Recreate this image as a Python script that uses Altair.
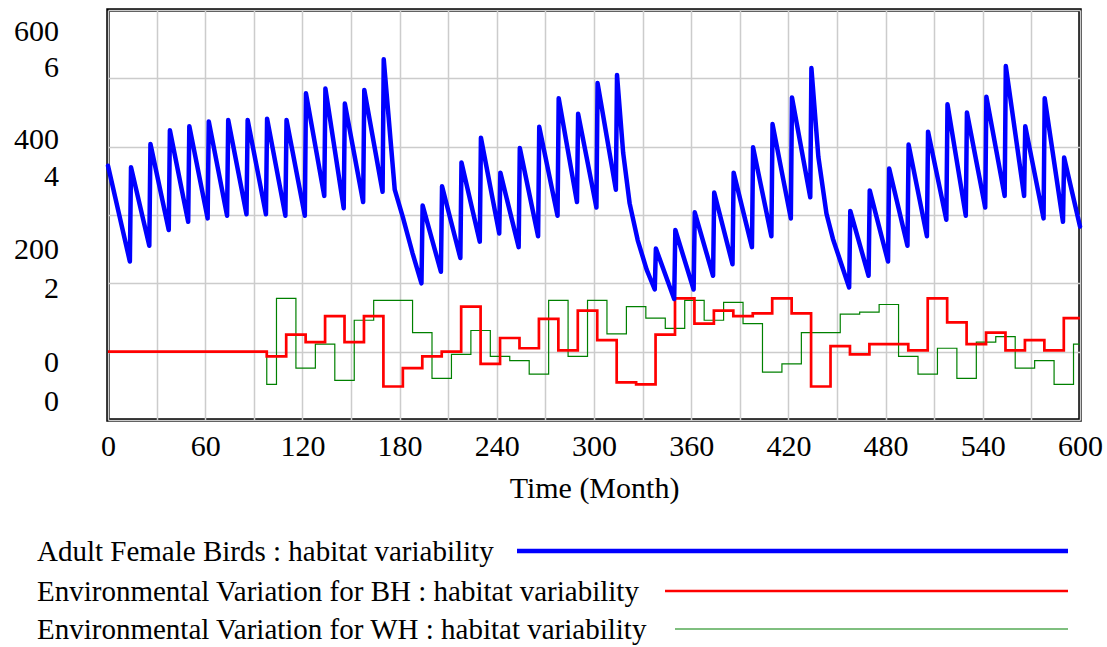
import altair as alt
import pandas as pd

# ---------------- data ----------------
bird_t = [0, 13.5, 14.2, 25.5, 26.2, 37.5, 38.2, 49.5, 50.2, 61.5, 62.2, 73.5, 74.2,
          85.5, 86.2, 97.5, 98.2, 109.5, 110.2, 121.5, 122.2, 133.5, 134.2, 145.5, 146.2,
          157.5, 158.2, 169.5, 170.2, 177, 182, 188, 193.5, 194.2, 205.5, 206.2, 217.5,
          218.2, 229.5, 230.2, 241.5, 242.2, 253.5, 254.2, 265.5, 266.2, 277.5, 278.2,
          289.5, 290.2, 301.5, 302.2, 313.5, 314.2, 318, 322, 327, 332.5, 337.5, 338.2,
          349.5, 350.2, 361.5, 362.2, 373.5, 374.2, 385.5, 386.2, 397.5, 398.2, 409.5,
          410.2, 421.5, 422.2, 433.5, 434.2, 438.5, 443.5, 447.5, 457.5, 458.2, 469.5,
          470.2, 481.5, 482.2, 493.5, 494.2, 505.5, 506.2, 517.5, 518.2, 529.5, 530.2,
          541.5, 542.2, 553.5, 554.2, 565.5, 566.2, 577.5, 578.2, 589.5, 590.2, 600]
bird_v = [372, 232, 370, 255, 404, 278, 424, 290, 430, 295, 437, 299, 439, 301, 439,
          301, 441, 299, 439, 299, 478, 328, 485, 310, 463, 319, 483, 334, 528, 337, 297,
          244, 200, 314, 217, 342, 237, 377, 261, 413, 273, 362, 253, 398, 269, 429, 299,
          471, 319, 448, 311, 493, 337, 505, 391, 317, 263, 220, 191, 251, 177, 278, 191,
          304, 211, 333, 228, 362, 253, 399, 269, 433, 295, 472, 326, 515, 385, 302, 265,
          194, 306, 211, 336, 232, 368, 255, 403, 269, 422, 293, 462, 299, 450, 311, 473,
          328, 518, 328, 430, 295, 471, 290, 384, 283]

bh_t = [0, 98, 110, 122, 134, 146, 158, 170, 182, 194, 206, 218, 230, 242, 254, 266,
        278, 290, 302, 314, 326, 338, 350, 362, 374, 386, 398, 410, 422, 434, 446, 458,
        470, 494, 506, 518, 530, 542, 554, 566, 578, 590, 600]
bh_v = [1.0, 0.93, 1.25, 1.14, 1.52, 1.14, 1.52, 0.49, 0.76, 0.93, 1.0, 1.66, 0.82,
        1.2, 1.05, 1.48, 1.02, 1.6, 1.17, 0.55, 0.52, 1.25, 1.78, 1.41, 1.6, 1.52, 1.56,
        1.78, 1.56, 0.49, 1.08, 0.96, 1.11, 1.02, 1.78, 1.43, 1.11, 1.28, 1.02, 1.17,
        1.02, 1.49, 1.49]

wh_t = [0, 98, 104, 116, 128, 140, 152, 164, 188, 200, 212, 224, 236, 248, 260, 272,
        284, 296, 308, 320, 332, 344, 356, 368, 380, 392, 404, 416, 428, 452, 464, 476,
        488, 500, 512, 524, 536, 548, 560, 572, 584, 596, 600]
wh_v = [1.0, 0.52, 1.78, 0.76, 1.11, 0.58, 1.46, 1.75, 1.28, 0.61, 0.96, 1.31, 0.93,
        0.87, 0.67, 1.75, 0.93, 1.75, 1.26, 1.66, 1.49, 1.34, 1.75, 1.46, 1.72, 1.41,
        0.70, 0.82, 1.28, 1.55, 1.58, 1.69, 0.93, 0.67, 1.05, 0.61, 1.14, 1.22, 0.76,
        0.87, 0.52, 1.11, 1.11]

x_ticks = list(range(0, 601, 30))
y_grid = list(range(0, 601, 100))

series_names = [
    "Adult Female Birds : habitat variability",
    "Environmental Variation for BH : habitat variability",
    "Environmental Variation for WH : habitat variability",
]
y_labels = ["600", "6", "400", "4", "200", "2", "0", "0"]

birds = pd.DataFrame({"t": bird_t, "v": bird_v})
bh = pd.DataFrame({"t": bh_t, "v": bh_v})
wh = pd.DataFrame({"t": wh_t, "v": wh_v})
one = pd.DataFrame({"k": [0]})

FONT = "Liberation Serif"
FS = 30
LFS = 29
GRID = "#cccccc"
BLUE, RED, GREEN = "#0000ff", "#ff0000", "#008000"

xenc = alt.X(
    "t:Q",
    scale=alt.Scale(domain=[0, 600], nice=False, zero=False),
    axis=alt.Axis(
        values=x_ticks,
        labelExpr="datum.value % 60 == 0 ? datum.label : ''",
        labelOverlap=False,
        labelFlush=False,
        title="Time (Month)",
        grid=True, gridColor=GRID, gridWidth=1.5,
        ticks=False, domain=False,
        labelFont=FONT, labelFontSize=FS, labelColor="black", labelPadding=11,
        titleFont=FONT, titleFontSize=FS, titleColor="black",
        titleFontWeight="normal", titlePadding=12,
    ),
)

blue = alt.Chart(birds).mark_line(
    color=BLUE, strokeWidth=4.5, strokeJoin="round", strokeCap="round"
).encode(
    x=xenc,
    y=alt.Y("v:Q", scale=alt.Scale(domain=[0, 600], nice=False),
            axis=alt.Axis(values=y_grid, labels=False, ticks=False, domain=False,
                          title=None, grid=True, gridColor=GRID, gridWidth=1.5)),
)

red = alt.Chart(bh).mark_line(
    color=RED, strokeWidth=2.7, interpolate="step-after"
).encode(
    x=alt.X("t:Q"),
    y=alt.Y("v:Q", scale=alt.Scale(domain=[0, 6], nice=False), axis=None),
)

green = alt.Chart(wh).mark_line(
    color=GREEN, strokeWidth=1.2, interpolate="step-after"
).encode(
    x=alt.X("t:Q"),
    y=alt.Y("v:Q", scale=alt.Scale(domain=[0, 6], nice=False), axis=None),
)

# Vensim-style stacked y labels (left of the plot)
label_y = [22, 58, 130, 167, 240, 279, 353, 392]
ylab_layers = [
    alt.Chart(one).mark_text(font=FONT, fontSize=FS, align="right",
                             baseline="middle", color="black").encode(
        x=alt.value(-49), y=alt.value(py), text=alt.value(txt))
    for txt, py in zip(y_labels, label_y)
]

# custom legend below the plot
leg_y = [542, 582, 620]
leg_x1 = [409, 557, 567]
leg_color = [BLUE, RED, GREEN]
leg_w = [4.5, 2.5, 1.2]
legend_layers = []
for name, yy, x1, c, w in zip(series_names, leg_y, leg_x1, leg_color, leg_w):
    legend_layers.append(
        alt.Chart(one).mark_text(font=FONT, fontSize=LFS, align="left",
                                 baseline="middle", color="black").encode(
            x=alt.value(-71), y=alt.value(yy), text=alt.value(name)))
    legend_layers.append(
        alt.Chart(one).mark_rule(color=c, strokeWidth=w).encode(
            x=alt.value(x1), x2=alt.value(960), y=alt.value(yy - 1)))

chart = alt.layer(
    green, red, blue, *ylab_layers, *legend_layers
).resolve_scale(y="independent").properties(
    width=972, height=410,
    autosize=alt.AutoSizeParams(type="none"),
    padding={"left": 108, "top": 10, "right": 27, "bottom": 227},
    background="white",
).configure_view(
    stroke="black", strokeWidth=3.5
)

chart.save("out.html", embed_options={"renderer": "svg", "actions": False})
